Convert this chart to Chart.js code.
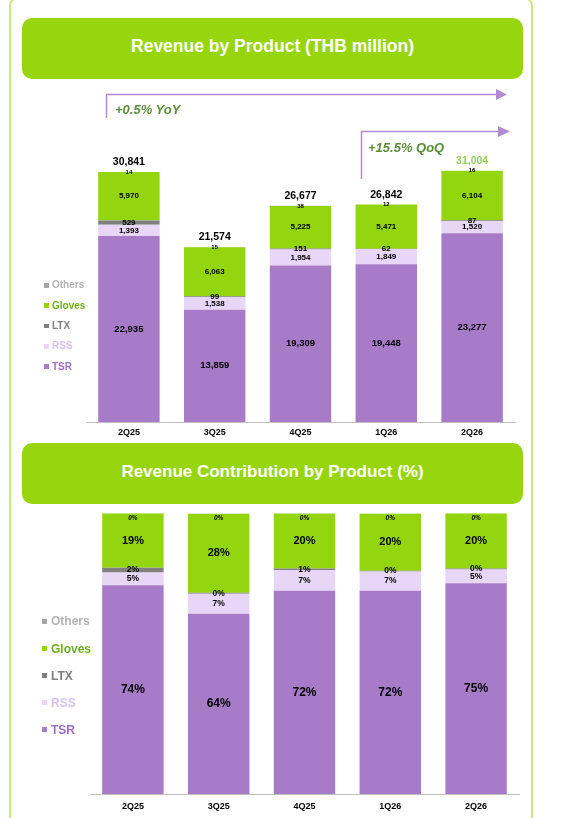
<!DOCTYPE html>
<html><head><meta charset="utf-8">
<script src="https://cdn.jsdelivr.net/npm/chart.js@4.4.1/dist/chart.umd.min.js"></script>
<style>
html,body{margin:0;padding:0;background:#fff;}
body{width:564px;height:818px;overflow:hidden;position:relative;font-family:"Liberation Sans",Arial,sans-serif;}
.frame{position:absolute;left:9px;top:-3px;width:520px;height:900px;border:2px solid #C8E880;border-radius:9px;box-sizing:content-box;}
.banner{position:absolute;left:22px;width:501px;height:61px;background:#97D60E;border-radius:10px;}
.banner span{position:absolute;left:0;right:0;text-align:center;color:#fff;font-weight:bold;white-space:nowrap;}
canvas{position:absolute;left:0;}
.lg{position:absolute;font-weight:bold;white-space:nowrap;}
.lg i{position:absolute;display:block;}
svg{position:absolute;left:0;top:0;}
</style>
</head><body>
<div class="frame"></div>
<div class="banner" style="top:18px"><span style="top:20px;font-size:17.5px;line-height:17px;">Revenue by Product (THB million)</span></div>
<div class="banner" style="top:443px"><span style="top:20px;font-size:17px;line-height:17px;">Revenue Contribution by Product (%)</span></div>
<canvas id="c1" width="564" height="370" style="top:80px;width:564px;height:370px"></canvas>
<canvas id="c2" width="564" height="316" style="top:505px;width:564px;height:316px"></canvas>
<svg width="564" height="818" viewBox="0 0 564 818">
  <polyline points="106.5,118 106.5,94.5 497,94.5" fill="none" stroke="#B48AD2" stroke-width="1.5"/>
  <polygon points="496,89 507,94.5 496,100" fill="#B48AD2"/>
  <text x="115" y="114" font-family="Liberation Sans, Arial, sans-serif" font-size="13" font-weight="bold" font-style="italic" fill="#5C8D3B">+0.5% YoY</text>
  <polyline points="361.5,179 361.5,131.5 499,131.5" fill="none" stroke="#B48AD2" stroke-width="1.5"/>
  <polygon points="498,126 510,131.5 498,137" fill="#B48AD2"/>
  <text x="368" y="152" font-family="Liberation Sans, Arial, sans-serif" font-size="13" font-weight="bold" font-style="italic" fill="#5C8D3B">+15.5% QoQ</text>
</svg>
<div id="legend1"></div>
<div id="legend2"></div>
<script>
// ---------- data ----------
const categories = ["2Q25", "3Q25", "4Q25", "1Q26", "2Q26"];
const seriesNames = ["TSR", "RSS", "LTX", "Gloves", "Others"];
// Revenue (THB million)
const revTSR    = [22935, 13859, 19309, 19448, 23277];
const revRSS    = [1393, 1538, 1954, 1849, 1520];
const revLTX    = [529, 99, 151, 62, 87];
const revGloves = [5970, 6063, 5225, 5471, 6104];
const revOthers = [14, 15, 38, 12, 16];
const revTotals = [30841, 21574, 26677, 26842, 31004];
// Revenue contribution (%)
const pctTSR    = [74.4, 64.2, 72.4, 72.4, 75.1];
const pctRSS    = [4.5, 7.1, 7.3, 6.9, 4.9];
const pctLTX    = [1.7, 0.4, 0.6, 0.2, 0.3];
const pctGloves = [19.4, 28.1, 19.6, 20.4, 19.7];
const pctOthers = [0, 0.1, 0.1, 0, 0];

// ---------- styles ----------
const FONT = '"Liberation Sans", Arial, sans-serif';
const barColors = ["#A87BC8", "#E8D6F6", "#7F7F7F", "#93D50E", "#A6A6A6"];
const legendTextColors = ["#9E6FC4", "#D9C2EF", "#7F7F7F", "#6FB01A", "#B3B3B3"];
const totalColors = ["#000", "#000", "#000", "#000", "#92D050"];

const segLabels = {
  id: 'segLabels',
  afterDatasetsDraw(chart, args, opts) {
    const ctx = chart.ctx;
    ctx.save();
    ctx.textAlign = 'center';
    ctx.textBaseline = 'middle';
    chart.data.datasets.forEach((ds, di) => {
      const meta = chart.getDatasetMeta(di);
      const st = opts.styles[di];
      meta.data.forEach((bar, i) => {
        const v = ds.data[i];
        const y = st.dy !== undefined ? bar.y + st.dy : (bar.y + bar.base) / 2;
        ctx.font = st.font;
        ctx.fillStyle = '#000';
        ctx.fillText(opts.format(v), bar.x, y);
      });
    });
    if (opts.totals) {
      const top = chart.getDatasetMeta(chart.data.datasets.length - 1);
      top.data.forEach((bar, i) => {
        ctx.font = 'bold 10.5px ' + FONT;
        ctx.fillStyle = opts.totalColors[i];
        ctx.fillText(opts.totals[i].toLocaleString('en-US'), bar.x, bar.y - 9.5);
      });
    }
    ctx.restore();
  }
};

function makeChart(id, seriesData, max, padding, tickPad, labelOpts) {
  return new Chart(document.getElementById(id), {
    type: 'bar',
    data: {
      labels: categories,
      datasets: seriesData.map((d, i) => ({
        label: seriesNames[i], data: d, backgroundColor: barColors[i], borderWidth: 0,
        categoryPercentage: 1, barPercentage: 0.716
      }))
    },
    options: {
      responsive: false, animation: false, devicePixelRatio: 1,
      layout: { padding },
      plugins: { legend: { display: false }, tooltip: { enabled: false }, segLabels: labelOpts },
      scales: {
        x: {
          stacked: true,
          grid: { display: false, drawTicks: false },
          border: { display: true, color: '#BFBFBF', width: 1 },
          ticks: { color: '#000', padding: tickPad, font: { family: FONT, size: 9, weight: 'bold' } }
        },
        y: { stacked: true, display: false, min: 0, max }
      }
    },
    plugins: [segLabels]
  });
}

makeChart('c1', [revTSR, revRSS, revLTX, revGloves, revOthers], 42000,
  { top: 1.5, left: 86, right: 49, bottom: 7.2 }, 5,
  {
    format: v => v.toLocaleString('en-US'),
    styles: [
      { font: 'bold 9.5px ' + FONT }, { font: 'bold 8px ' + FONT }, { font: 'bold 8px ' + FONT },
      { font: 'bold 8px ' + FONT }, { font: 'bold 6px ' + FONT }
    ],
    totals: revTotals, totalColors
  });

makeChart('c2', [pctTSR, pctRSS, pctLTX, pctGloves, pctOthers], 100,
  { top: 8.3, left: 90, right: 45, bottom: 2.2 }, 7,
  {
    format: v => Math.round(v) + '%',
    styles: [
      { font: 'bold 12px ' + FONT }, { font: 'bold 8.5px ' + FONT }, { font: 'bold 8.5px ' + FONT },
      { font: 'bold 11px ' + FONT }, { font: 'italic bold 6.5px ' + FONT, dy: 4.5 }
    ]
  });

// ---------- legends (top-down: Others, Gloves, LTX, RSS, TSR) ----------
function buildLegend(id, centers, fontSize, boxSize, boxX, textX) {
  const el = document.getElementById(id);
  const order = [4, 3, 2, 1, 0];
  order.forEach((si, k) => {
    const d = document.createElement('div');
    d.className = 'lg';
    d.style.left = textX + 'px';
    d.style.top = (centers[k] - fontSize * 0.6) + 'px';
    d.style.fontSize = fontSize + 'px';
    d.style.lineHeight = (fontSize * 1.2) + 'px';
    d.style.color = legendTextColors[si];
    d.textContent = seriesNames[si];
    const b = document.createElement('i');
    b.style.width = boxSize + 'px';
    b.style.height = boxSize + 'px';
    b.style.background = barColors[si];
    b.style.left = (boxX - textX) + 'px';
    b.style.top = (fontSize * 0.6 - boxSize / 2) + 'px';
    d.appendChild(b);
    el.appendChild(d);
  });
}
buildLegend('legend1', [285.3, 305.7, 326, 346.3, 366.7], 10, 4.5, 44, 52);
buildLegend('legend2', [621.3, 648.7, 676, 703, 730], 12, 5, 42, 51);
</script>
</body></html>
